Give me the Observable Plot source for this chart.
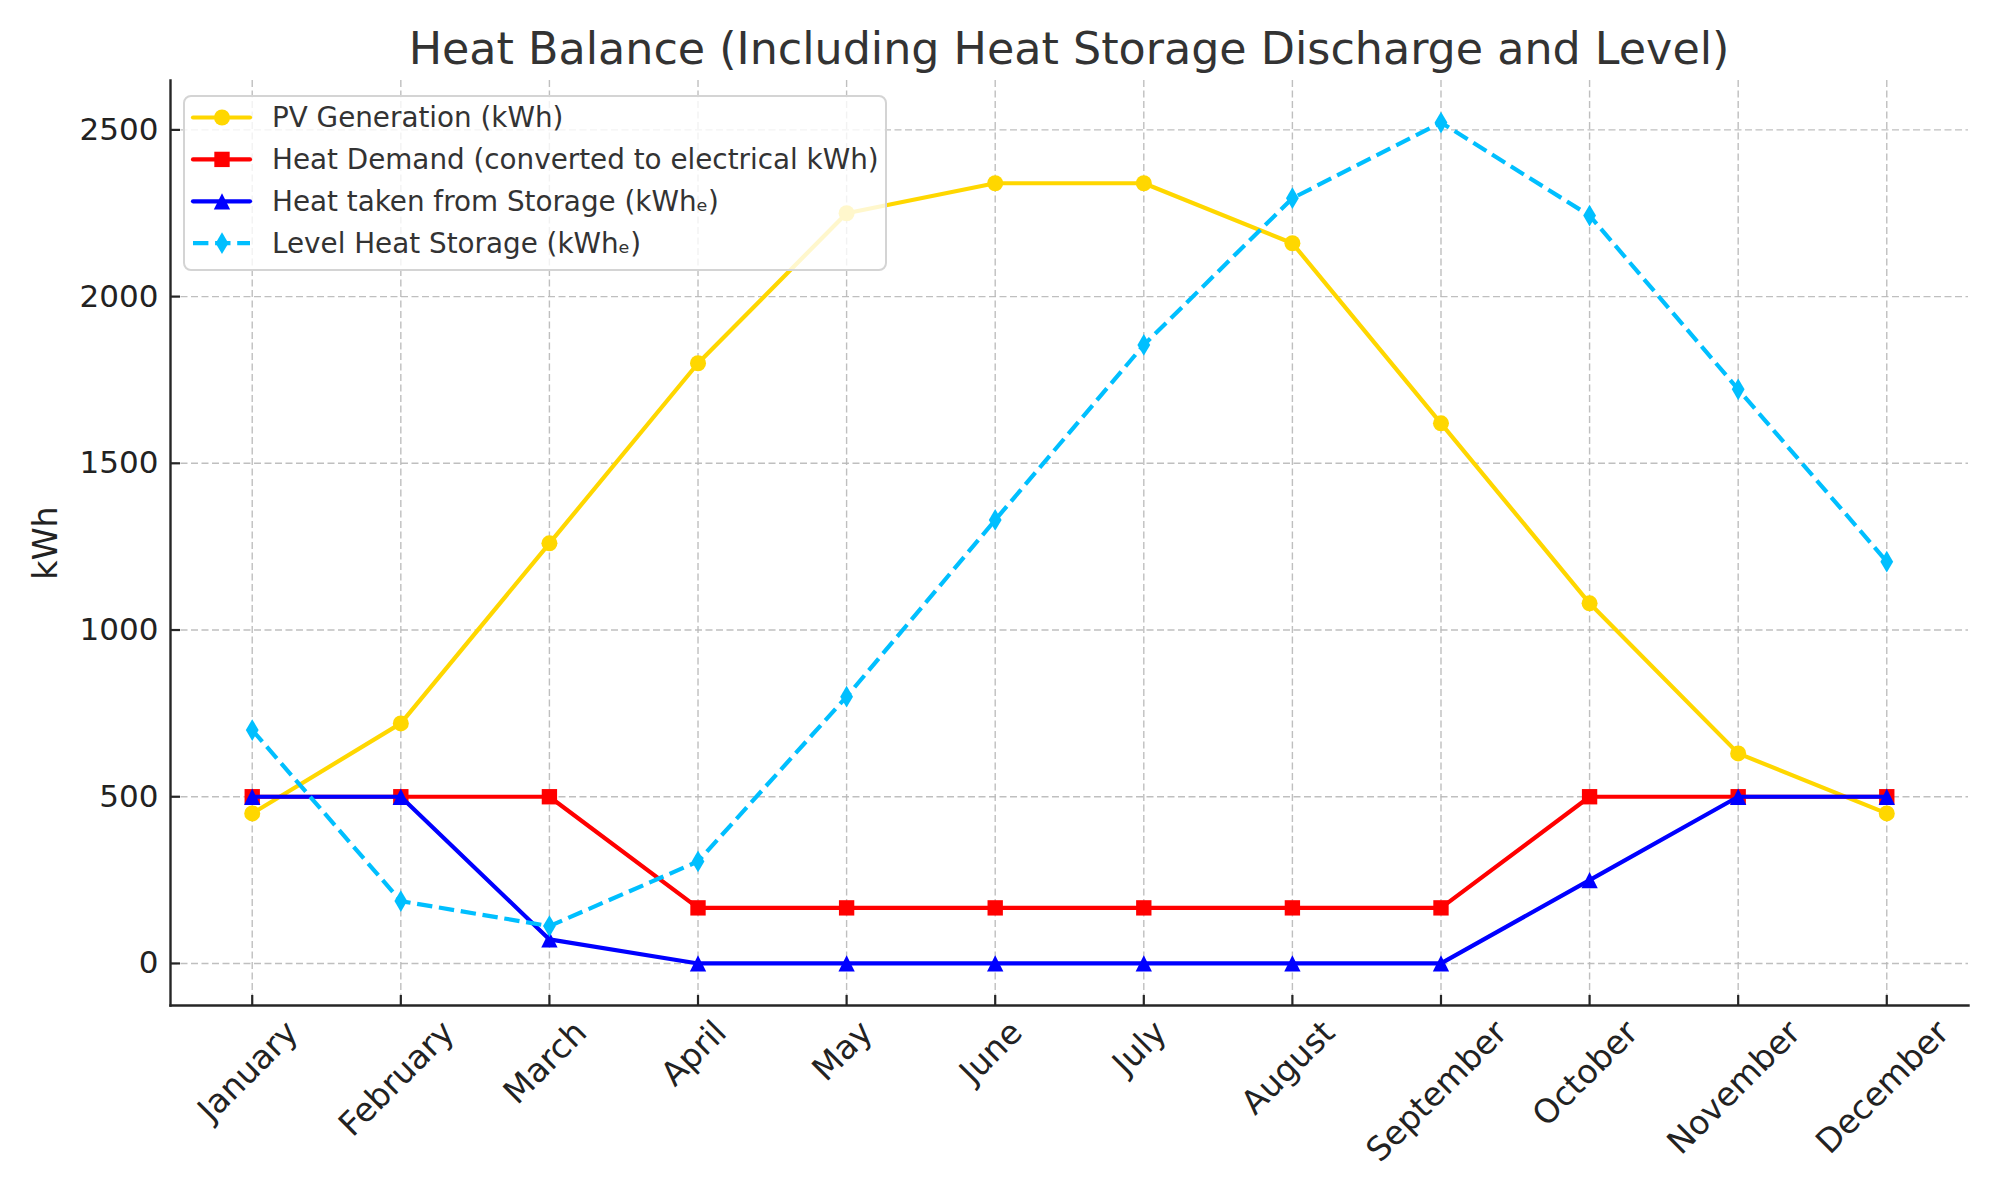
<!DOCTYPE html>
<html>
<head>
<meta charset="utf-8">
<script src="https://cdn.jsdelivr.net/npm/d3@7"></script>
<script src="https://cdn.jsdelivr.net/npm/@observablehq/plot@0.6"></script>
<style>
  html, body { margin: 0; padding: 0; background: #fff; }
  #wrap { position: relative; width: 2000px; height: 1200px; font-family: "DejaVu Sans", sans-serif; }
  #title { position: absolute; left: 170px; width: 1798px; top: 19px; line-height: 60px;
           text-align: center; font-size: 44.4px; color: #333; white-space: nowrap; }
  #chart { position: absolute; left: 0; top: 0; }
</style>
</head>
<body>
<div id="wrap">
  <div id="chart"></div>
  <div id="title">Heat Balance (Including Heat Storage Discharge and Level)</div>
</div>
<script>
// Monthly values (kWh)
const months = ["January", "February", "March", "April", "May", "June",
                "July", "August", "September", "October", "November", "December"];
const pvGeneration    = [450, 720, 1260, 1800, 2250, 2340, 2340, 2160, 1620, 1080, 630, 450];
const heatDemand      = [500, 500, 500, 166.7, 166.7, 166.7, 166.7, 166.7, 166.7, 500, 500, 500];
const heatFromStorage = [500, 500, 72, 0, 0, 0, 0, 0, 0, 250, 500, 500];
const storageLevel    = [700, 187, 112, 306, 800, 1330, 1855, 2295, 2522, 2243, 1722, 1205];

const seriesNames = [
  "PV Generation (kWh)",
  "Heat Demand (converted to electrical kWh)",
  "Heat taken from Storage (kWhₑ)",
  "Level Heat Storage (kWhₑ)"
];
const seriesColors = ["#FFD700", "#FF0000", "#0000FF", "#00BFFF"];
const seriesDash = [null, null, null, "15.4,6.7"];
const yTicks = [0, 500, 1000, 1500, 2000, 2500];
const yLabel = "kWh";

// Marker shapes
const circleSym = { draw(ctx, size) { const s = Math.sqrt(size / Math.PI); ctx.moveTo(s, 0); ctx.arc(0, 0, s, 0, 2 * Math.PI); ctx.closePath(); } };
const squareSym = { draw(ctx, size) { const s = Math.sqrt(size / Math.PI) * 0.96; ctx.moveTo(-s, -s); ctx.lineTo(s, -s); ctx.lineTo(s, s); ctx.lineTo(-s, s); ctx.closePath(); } };
const triangleSym = { draw(ctx, size) { const s = Math.sqrt(size / Math.PI) * 1.02; ctx.moveTo(0, -s); ctx.lineTo(s, s); ctx.lineTo(-s, s); ctx.closePath(); } };
const thinDiamondSym = { draw(ctx, size) { const s = Math.sqrt(size / Math.PI); const h = s * 1.36, w = s * 0.8; ctx.moveTo(0, -h); ctx.lineTo(w, 0); ctx.lineTo(0, h); ctx.lineTo(-w, 0); ctx.closePath(); } };
const seriesSymbols = [circleSym, squareSym, triangleSym, thinDiamondSym];

const seriesValues = [pvGeneration, heatDemand, heatFromStorage, storageLevel];
const series = seriesNames.map((name, i) => ({
  name, color: seriesColors[i], dash: seriesDash[i], symbol: seriesSymbols[i],
  rows: months.map((m, j) => ({ month: m, value: seriesValues[i][j] }))
}));

// Layout
const W = 2000, H = 1200, mL = 170, mR = 32, mT = 80, mB = 195;
const frameW = W - mL - mR, frameH = H - mT - mB;
const allValues = seriesValues.flat();
const lo = d3.min(allValues), hi = d3.max(allValues), pad = (hi - lo) * 0.05;

const yTickFont = 31, xTickFont = 33;
const ctx2d = document.createElement("canvas").getContext("2d");
ctx2d.font = `${xTickFont}px "DejaVu Sans"`;
const textWidth = s => ctx2d.measureText(s).width;
const k45 = Math.SQRT1_2 / 2;
const emBox = 1.16 * xTickFont;

const gridStyle = { stroke: "#b8b8b8", strokeWidth: 1.4, strokeDasharray: "7,3.5", strokeOpacity: 0.9 };
const axisColor = "#262626";

const marks = [
  Plot.gridY(yTicks, gridStyle),
  Plot.gridX(months, gridStyle),
];
for (const s of series) {
  marks.push(Plot.lineY(s.rows, { x: "month", y: "value", stroke: s.color, strokeWidth: 4.2,
    strokeDasharray: s.dash, strokeLinejoin: "round", strokeLinecap: s.dash ? "butt" : "round" }));
  marks.push(Plot.dot(s.rows, { x: "month", y: "value", symbol: s.symbol, r: 8, fill: s.color, stroke: "none" }));
}
marks.push(
  Plot.tickY(yTicks, { y: d => d, insetRight: frameW - 10, stroke: axisColor, strokeWidth: 2.2 }),
  Plot.tickX(months, { x: d => d, insetTop: frameH - 10, stroke: axisColor, strokeWidth: 2.2 }),
  Plot.frame({ anchor: "left", stroke: axisColor, strokeWidth: 2.4 }),
  Plot.frame({ anchor: "bottom", stroke: axisColor, strokeWidth: 2.4 }),
  Plot.text(yTicks, { y: d => d, text: d => String(d), frameAnchor: "left", textAnchor: "end",
    dx: -12, fontSize: yTickFont, fill: "#222" }),
  ...months.map(m => Plot.text([m], { x: d => d, text: d => d, frameAnchor: "bottom", rotate: -45,
    textAnchor: "end", lineAnchor: "middle", dx: k45 * textWidth(m) - 4, dy: 8 + k45 * emBox,
    fontSize: xTickFont, fill: "#222" })),
  Plot.text([yLabel], { text: d => d, frameAnchor: "left", rotate: -90, textAnchor: "middle",
    lineAnchor: "middle", dx: -124, fontSize: 33.3, fill: "#222" })
);

const chart = Plot.plot({
  width: W, height: H,
  marginLeft: mL, marginRight: mR, marginTop: mT, marginBottom: mB,
  style: { background: "#fff", fontFamily: "DejaVu Sans", color: "#222" },
  x: { type: "point", domain: months, padding: 0.55, round: false, axis: null },
  y: { domain: [lo - pad, hi + pad], axis: null },
  marks
});

// Legend box in the upper-left of the plotting area
const svg = d3.select(chart);
const lg = svg.append("g").attr("transform", "translate(184,96)").attr("text-anchor", "start");
lg.append("rect").attr("width", 702).attr("height", 174).attr("rx", 7)
  .attr("fill", "rgba(255,255,255,0.8)").attr("stroke", "#d4d4d4").attr("stroke-width", 2);
series.forEach((s, i) => {
  const cy = 21.5 + i * 41.9;
  lg.append("line").attr("x1", 9).attr("x2", 66).attr("y1", cy).attr("y2", cy)
    .attr("stroke", s.color).attr("stroke-width", 4.2).attr("stroke-dasharray", s.dash)
    .attr("stroke-linecap", s.dash ? "butt" : "round");
  lg.append("path").attr("d", d3.symbol(s.symbol, Math.PI * 64)()).attr("fill", s.color)
    .attr("transform", `translate(38,${cy})`);
  lg.append("text").attr("x", 88).attr("y", cy).attr("dy", "0.35em").attr("text-anchor", "start")
    .attr("font-size", 27.8).attr("fill", "#333").attr("font-family", "DejaVu Sans").text(s.name);
});

document.getElementById("chart").appendChild(chart);
</script>
</body>
</html>
